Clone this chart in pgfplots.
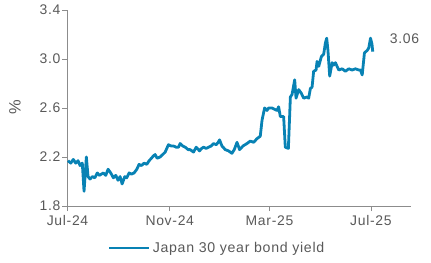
\documentclass[border=0pt]{standalone}
\usepackage{pgfplots}
\pgfplotsset{compat=1.18}
\usepackage{fontspec}
\setmainfont{Liberation Sans}[LetterSpace=5]
\definecolor{lineblue}{RGB}{8,130,180}
\definecolor{axgray}{RGB}{140,140,140}
\definecolor{txtgray}{RGB}{89,89,89}
\begin{document}
\begin{tikzpicture}
\useasboundingbox (-67.5bp,-57bp) rectangle (363.5bp,206bp);
\begin{axis}[
  at={(0,0)}, anchor=south west,
  scale only axis, width=343bp, height=196bp,
  xmin=0, xmax=412.6, ymin=1.8, ymax=3.4,
  axis x line=bottom, axis y line=left,
  axis line style={-, draw=axgray, line width=0.8pt},
  xtick={0,123,243,365},
  xticklabels={Jul-24,Nov-24,Mar-25,Jul-25},
  ytick={1.8,2.2,2.6,3.0,3.4},
  /pgf/number format/assume math mode=true,
  tick align=outside, major tick length=5bp,
  tick style={draw=axgray, line width=0.8pt},
  ticklabel style={font=\fontsize{14}{16}\selectfont, text=txtgray},
  yticklabel style={xshift=1.5bp, /pgf/number format/.cd, fixed, fixed zerofill, precision=1},
  xticklabel style={yshift=-1bp},
  ylabel={\%},
  ylabel style={at={(axis description cs:-0.153,0.505)}, anchor=center, font=\fontsize{16.5}{18}\selectfont, text=txtgray},
  legend style={draw=none, fill=none, font=\fontsize{14.2}{16}\selectfont, text=txtgray,
    at={(axis description cs:0.118,-0.214)}, anchor=west, inner sep=0pt, outer sep=0pt},
  legend image code/.code={\draw[#1] (0bp,0bp) -- (40bp,0bp);},
  clip=false,
]
\addplot[lineblue, line width=2.8bp, line join=round] coordinates {
(0.6,2.17)(3.9,2.15)(7.0,2.18)(9.9,2.15)(12.7,2.17)(15.1,2.13)(17.8,2.15)(19.9,1.92)
(22.7,2.20)(24.7,2.04)(27.1,2.02)(29.9,2.04)(32.8,2.03)(35.9,2.07)(38.3,2.05)(40.7,2.06)
(43.1,2.07)(46.0,2.05)(48.8,2.10)(52.0,2.07)(55.2,2.03)(58.1,2.05)(60.8,2.01)(63.3,2.04)
(65.7,1.98)(68.9,2.04)(71.3,2.03)(74.1,2.07)(76.9,2.06)(80.1,2.07)(83.4,2.10)(86.1,2.14)
(88.9,2.13)(92.2,2.15)(95.4,2.14)(98.2,2.17)(101.0,2.19)(103.4,2.21)(105.4,2.22)(107.8,2.19)
(111.4,2.20)(114.5,2.22)(117.5,2.24)(121.4,2.30)(124.7,2.29)(127.5,2.29)(130.7,2.28)(133.5,2.28)
(135.5,2.31)(138.6,2.29)(141.6,2.28)(145.2,2.26)(147.6,2.26)(151.6,2.24)(154.8,2.28)(158.8,2.25)
(161.4,2.27)(163.6,2.28)(166.9,2.27)(169.6,2.28)(172.9,2.29)(175.7,2.31)(178.9,2.30)(181.3,2.32)
(182.9,2.34)(185.8,2.29)(189.8,2.26)(193.7,2.25)(197.8,2.23)(200.6,2.26)(203.9,2.32)(207.0,2.26)
(211.1,2.29)(215.9,2.31)(219.9,2.33)(223.9,2.32)(228.0,2.35)(231.9,2.37)(234.0,2.50)(237.1,2.60)
(240.0,2.58)(241.9,2.60)(246.0,2.60)(248.8,2.59)(252.0,2.58)(254.0,2.61)(256.0,2.53)(260.0,2.53)
(262.0,2.28)(265.7,2.27)(268.1,2.69)(270.1,2.71)(273.3,2.83)(274.9,2.68)(278.1,2.75)(281.3,2.72)
(284.1,2.68)(288.2,2.69)(290.1,2.68)(292.2,2.76)(294.2,2.77)(296.1,2.90)(299.0,2.91)(300.2,2.98)
(302.2,2.94)(304.2,2.99)(305.4,3.02)(308.2,3.04)(310.2,3.13)(311.8,3.17)(313.3,3.07)(315.4,2.86)
(318.3,2.97)(320.2,2.95)(322.3,2.97)(326.3,2.91)(330.4,2.92)(334.3,2.90)(338.3,2.92)(342.4,2.91)
(346.4,2.92)(350.4,2.91)(352.4,2.91)(354.5,2.87)(357.2,3.05)(360.5,3.07)(362.4,3.09)(364.5,3.17)
(366.3,3.12)(367.2,3.06)
};
\addlegendentry{Japan 30 year bond yield}
\node[anchor=west, font=\fontsize{14}{16}\selectfont, text=txtgray, inner sep=0pt] at (axis cs:387.5,3.163) {3.06};
\end{axis}
\end{tikzpicture}
\end{document}
